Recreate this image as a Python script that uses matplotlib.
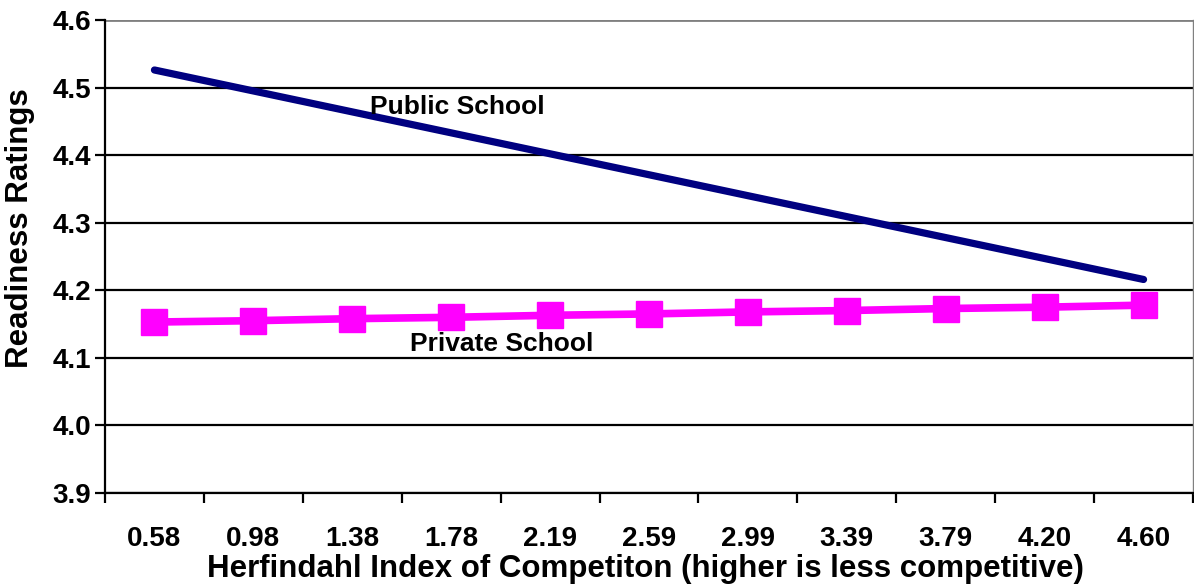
import numpy as np
import matplotlib.pyplot as plt

plt.rcParams["font.family"] = ["Liberation Sans", "DejaVu Sans"]
plt.rcParams["font.weight"] = "bold"

HERFINDAHL = ["0.58", "0.98", "1.38", "1.78", "2.19", "2.59",
              "2.99", "3.39", "3.79", "4.20", "4.60"]
PUBLIC = [4.526, 4.495, 4.464, 4.433, 4.402, 4.371,
          4.340, 4.309, 4.278, 4.247, 4.216]
PRIVATE = [4.153, 4.155, 4.158, 4.160, 4.163, 4.165,
           4.168, 4.170, 4.173, 4.175, 4.178]
Y_TICKS = [3.9, 4.0, 4.1, 4.2, 4.3, 4.4, 4.5, 4.6]

NAVY = "#000080"
MAGENTA = "#ff00ff"

fig = plt.figure(figsize=(11.94, 5.87), dpi=100)
ax = fig.add_axes([105 / 1194, 1 - 493 / 587, 1088 / 1194, 473 / 587])

x = np.arange(len(HERFINDAHL))

# gridlines (top one is grey like the plot border)
for y in Y_TICKS[:-1]:
    ax.axhline(y, color="black", lw=1.6, zorder=1)
ax.axhline(Y_TICKS[-1], color="#808080", lw=2.0, zorder=1)

ax.plot(x, PUBLIC, color=NAVY, lw=5.2, solid_capstyle="round", zorder=3)
ax.plot(x, PRIVATE, color=MAGENTA, lw=5.5, marker="s", markersize=19,
        markeredgecolor=MAGENTA, zorder=3)

ax.set_xlim(-0.5, len(HERFINDAHL) - 0.5)
ax.set_ylim(3.9, 4.6)

ax.set_yticks(Y_TICKS)
ax.set_yticklabels([f"{v:.1f}" for v in Y_TICKS])
ax.tick_params(axis="y", length=7, width=1.6, pad=3, labelsize=20)

# ticks between categories, labels under category centres
ax.set_xticks(np.arange(-0.5, len(HERFINDAHL), 1.0))
ax.set_xticklabels([])
ax.set_xticks(x, minor=True)
ax.set_xticklabels(HERFINDAHL, minor=True)
ax.tick_params(axis="x", which="major", length=7, width=1.6)
ax.tick_params(axis="x", which="minor", length=0, pad=24, labelsize=20)

for side in ["left", "bottom"]:
    ax.spines[side].set_linewidth(1.6)
ax.spines["top"].set_visible(False)
ax.spines["right"].set_color("#808080")
ax.spines["right"].set_linewidth(1.0)

ax.set_xlabel("Herfindahl Index of Competiton (higher is less competitive)",
              fontsize=22.5, fontweight="bold")
ax.xaxis.set_label_coords(0.497, -0.128)
ax.set_ylabel("Readiness Ratings", fontsize=22.5, fontweight="bold")
ax.yaxis.set_label_coords(-0.064, 0.56)

ax.text(2.18, 4.471, "Public School", fontsize=19, fontweight="bold",
        va="center", ha="left")
ax.text(2.58, 4.121, "Private School", fontsize=19, fontweight="bold",
        va="center", ha="left")

fig.savefig("out.png", dpi=100)
